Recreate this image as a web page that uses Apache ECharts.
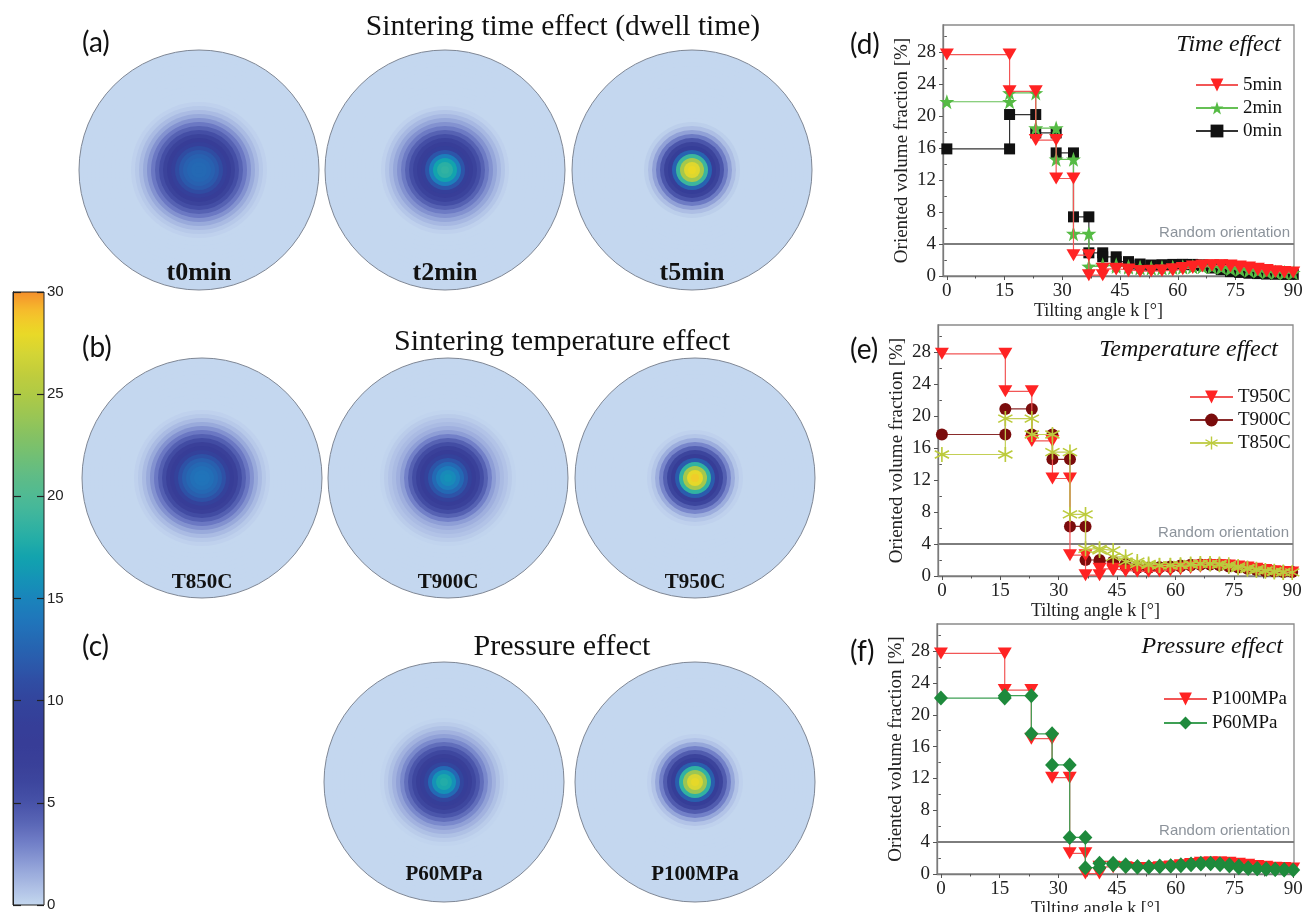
<!DOCTYPE html>
<html><head><meta charset="utf-8">
<script src="https://cdn.jsdelivr.net/npm/echarts@6/dist/echarts.min.js"></script>
<style>html,body{margin:0;padding:0;background:#fff}#c{width:1304px;height:912px}</style>
</head><body><div id="c"></div><script>
// ---------- DATA ----------
// equal-solid-angle tilting-angle bin edges [deg]
const tiltEdges = [0,16.3,23.1,28.4,32.9,36.9,40.5,44.0,47.2,50.2,53.1,55.9,58.7,61.3,63.9,66.4,68.9,71.3,73.7,76.1,78.5,80.8,83.1,85.4,87.7,90];
// (d) time effect
const time5min = [27.7,23.1,17.0,12.2,2.6,0.1,0.9,0.8,0.6,0.6,0.65,0.7,0.85,1.0,1.2,1.3,1.35,1.3,1.2,1.05,0.9,0.75,0.6,0.5,0.45];
const time2min = [21.8,22.9,18.5,14.6,5.3,1.2,1.4,1.2,1.1,1.0,1.0,1.05,1.1,1.15,1.2,1.2,1.15,1.05,0.9,0.8,0.7,0.6,0.5,0.45,0.4];
const time0min = [15.9,20.2,17.9,15.4,7.4,2.9,2.4,1.8,1.5,1.35,1.35,1.4,1.45,1.45,1.4,1.3,1.0,0.8,0.55,0.45,0.35,0.3,0.25,0.25,0.2];
// (e) temperature effect
const tempT950C = [27.8,23.1,16.9,12.2,2.6,0.1,0.9,0.7,0.6,0.55,0.6,0.7,0.85,1.0,1.15,1.3,1.35,1.3,1.2,1.05,0.9,0.75,0.6,0.5,0.45];
const tempT900C = [17.7,20.9,17.7,14.6,6.2,2.0,1.8,1.5,1.15,1.0,1.05,1.1,1.2,1.3,1.4,1.45,1.45,1.35,1.2,1.05,0.9,0.75,0.6,0.55,0.5];
const tempT850C = [15.2,19.7,17.7,15.5,7.7,3.4,3.2,2.4,1.8,1.5,1.35,1.3,1.35,1.4,1.5,1.55,1.5,1.4,1.2,1.0,0.85,0.7,0.6,0.5,0.45];
// (f) pressure effect
const presP100MPa = [27.7,23.1,17.0,12.1,2.6,0.05,0.9,0.85,0.75,0.7,0.75,0.85,0.95,1.1,1.25,1.4,1.45,1.4,1.3,1.15,1.0,0.9,0.8,0.75,0.7];
const presP60MPa = [22.1,22.4,17.6,13.7,4.6,0.8,1.35,1.15,0.95,0.85,0.9,1.0,1.05,1.15,1.25,1.35,1.3,1.15,1.0,0.8,0.7,0.65,0.6,0.55,0.5];
const randomLevel = 4;
const xTicks = [0,15,30,45,60,75,90];
const xMinorTicks = [7.5,22.5,37.5,52.5,67.5,82.5];
const yTicks = [0,4,8,12,16,20,24,28];
const yMinorTicks = [2,6,10,14,18,22,26,30];
const cbTicks = [0,5,10,15,20,25,30];
// pole figure radial intensity profiles (30 rings, centre -> edge)
const ringT0min  = [13.0,13.0,12.8,12.4,11.8,10.8,9.2,7.8,6.5,5.3,4.2,3.3,2.4,1.6,1.0,0.5,0.2,0,0,0,0,0,0,0,0,0,0,0,0,0];
const ringT2min  = [18.5,18.2,17.0,14.5,11.5,9.0,7.5,6.4,5.3,4.2,3.2,2.4,1.7,1.1,0.6,0.2,0,0,0,0,0,0,0,0,0,0,0,0,0,0];
const ringT5min  = [28.0,27.5,24.5,19.0,12.5,8.5,6.5,4.8,3.2,1.9,0.9,0.3,0,0,0,0,0,0,0,0,0,0,0,0,0,0,0,0,0,0];
const ringT850C  = [13.8,13.7,13.4,12.9,12.2,11.2,9.6,8.1,6.8,5.5,4.3,3.3,2.4,1.6,1.0,0.5,0.2,0,0,0,0,0,0,0,0,0,0,0,0,0];
const ringT900C  = [15.8,15.4,14.4,13.0,11.4,9.6,8.0,6.7,5.4,4.2,3.0,2.0,1.4,1.0,0.7,0.4,0.1,0,0,0,0,0,0,0,0,0,0,0,0,0];
const ringT950C  = [28.5,27.8,24.5,18.5,12.0,8.2,6.2,4.3,2.8,1.5,0.6,0.2,0,0,0,0,0,0,0,0,0,0,0,0,0,0,0,0,0,0];
const ringP60MPa = [17.8,17.4,15.8,13.0,10.2,8.3,7.0,5.9,4.8,3.7,2.7,1.9,1.3,0.8,0.4,0.1,0,0,0,0,0,0,0,0,0,0,0,0,0,0];
const ringP100MPa= [27.8,27.2,24.0,18.5,12.2,8.3,6.3,4.5,3.0,1.7,0.7,0.2,0,0,0,0,0,0,0,0,0,0,0,0,0,0,0,0,0,0];
const poleNames = ['t0min','t2min','t5min','T850C','T900C','T950C','P60MPa','P100MPa'];
const poleRings = [ringT0min,ringT2min,ringT5min,ringT850C,ringT900C,ringT950C,ringP60MPa,ringP100MPa];

// ---------- LAYOUT / STYLE ----------
const poleLayout = [
  {cx:199,cy:170,ly:273,fs:26},{cx:445,cy:170,ly:273,fs:26},{cx:692,cy:170,ly:273,fs:26},
  {cx:202,cy:478,ly:583,fs:21},{cx:448,cy:478,ly:583,fs:21},{cx:695,cy:478,ly:583,fs:21},
  {cx:444,cy:782,ly:875,fs:21},{cx:695,cy:782,ly:875,fs:21}
];
const cmap = ['#c4d7ef','#aabbe3','#8e9ed6','#7280c8','#5a66b6','#4752a8','#3d469e','#393f98','#373d97','#353f99',
  '#33449c','#2f4ea4','#2a5cad','#2469b4','#1f77bb','#1a84bb','#1494b6','#12a3ae','#26aea6','#3cb59e',
  '#4fba94','#5fbc86','#72bf74','#86c262','#9bc653','#afca45','#c1cd3c','#d4d535','#ead926','#f5c02c','#f5902c'];
const SERIF = 'Liberation Serif';
const SANS = 'Liberation Sans';
const grids = [
  {left:943,top:25,width:351,height:251},
  {left:938,top:325,width:355,height:251},
  {left:937,top:624,width:357,height:250}
];
const RING_COUNT = poleRings[0].length;

function stepPoints(vals){
  const pts = [];
  vals.forEach((v,i) => { pts.push([tiltEdges[i], v]); pts.push([tiltEdges[i+1], v]); });
  return pts;
}
const starPath = 'path://M50,2 L61.8,36.2 L97.6,36.5 L69,58.1 L79.4,92.4 L50,72 L20.6,92.4 L31,58.1 L2.4,36.5 L38.2,36.2 Z';
function asteriskPath(){
  let d = '';
  [90, 30, -30].forEach(a => {
    const r = a*Math.PI/180, ux = Math.cos(r), uy = Math.sin(r), vx = -uy, vy = ux, L = 50, W = 5;
    const p = [[50+L*ux+W*vx,50+L*uy+W*vy],[50+L*ux-W*vx,50+L*uy-W*vy],[50-L*ux-W*vx,50-L*uy-W*vy],[50-L*ux+W*vx,50-L*uy+W*vy]];
    d += 'M'+p.map(q=>q[0].toFixed(1)+','+q[1].toFixed(1)).join(' L')+' Z ';
  });
  return 'path://' + d;
}
// a filled disc out to the ring's outer radius; discs are drawn outermost first
function renderDisc(params, api){
  const cs = params.coordSys;
  const p = api.coord([api.value(0), 0]);
  const r = Math.hypot(p[0]-cs.cx, p[1]-cs.cy);
  return {type:'circle', shape:{cx:cs.cx, cy:cs.cy, r:r}, style:{fill:api.visual('color')}};
}

// ---------- OPTION ----------
const option = {
  animation:false,
  backgroundColor:'#fff',
  grid:[], xAxis:[], yAxis:[], polar:[], angleAxis:[], radiusAxis:[], series:[], legend:[], graphic:[]
};

// pole figures
poleLayout.forEach((p,i) => {
  option.polar.push({center:[p.cx,p.cy], radius:120});
  option.angleAxis.push({polarIndex:i, type:'value', min:0, max:360, startAngle:90, z:5,
    axisLine:{show:true, lineStyle:{color:'#7f8795', width:1}}, axisTick:{show:false}, axisLabel:{show:false}, splitLine:{show:false}});
  option.radiusAxis.push({polarIndex:i, type:'value', min:0, max:RING_COUNT, show:false,
    axisLine:{show:false}, axisTick:{show:false}, axisLabel:{show:false}, splitLine:{show:false}});
  const data = poleRings[i].map((v,k) => [k+1, 0, v]).reverse();
  option.series.push({type:'custom', name:'pf_'+poleNames[i], coordinateSystem:'polar', polarIndex:i,
    encode:{radius:0, angle:1}, silent:true, renderItem:renderDisc, data:data});
  option.graphic.push({type:'text', x:p.cx, y:p.ly, z:10, style:{text:poleNames[i], fontFamily:SERIF, fontWeight:'bold', fontSize:p.fs,
    fill:'#111', align:'center', verticalAlign:'middle'}});
});

option.visualMap = {type:'continuous', min:0, max:30, dimension:2, seriesIndex:[0,1,2,3,4,5,6,7],
  inRange:{color:cmap}, left:13, top:292, itemWidth:31, itemHeight:613, calculable:false, hoverLink:false,
  padding:0, orient:'vertical', text:null, showLabel:false, z:2};

// line charts
const SERIES_DEF = [
  [ {name:'0min', vals:time0min, symbol:'rect', size:11, color:'#111', line:'#333'},
    {name:'2min', vals:time2min, symbol:starPath, size:15, color:'#55bb44', line:'#66c055'},
    {name:'5min', vals:time5min, symbol:'triangle', rotate:180, size:[14,12], color:'#ff2323', line:'#f25656'} ],
  [ {name:'T900C', vals:tempT900C, symbol:'circle', size:12, color:'#7a0c0c', line:'#8a2b2b'},
    {name:'T950C', vals:tempT950C, symbol:'triangle', rotate:180, size:[14,12], color:'#ff2323', line:'#f25656'},
    {name:'T850C', vals:tempT850C, symbol:asteriskPath(), size:15, color:'#bccb3c', line:'#c3cf55'} ],
  [ {name:'P100MPa', vals:presP100MPa, symbol:'triangle', rotate:180, size:[14,12], color:'#ff2323', line:'#f25656'},
    {name:'P60MPa', vals:presP60MPa, symbol:'diamond', size:[14,15], color:'#1e8a3c', line:'#3ea055'} ]
];
const LEGENDS = [
  {data:['5min','2min','0min'], left:1195, top:75, itemWidth:42, gap:3},
  {data:['T950C','T900C','T850C'], left:1189, top:387, itemWidth:43, gap:3},
  {data:['P100MPa','P60MPa'], left:1163, top:689, itemWidth:43, gap:4}
];
const TITLES = [
  {text:'Time effect', x:1281, y:45},
  {text:'Temperature effect', x:1278, y:350},
  {text:'Pressure effect', x:1283, y:647}
];

grids.forEach((g,gi) => {
  option.grid.push(Object.assign({show:true, borderColor:'#8a8a8a', borderWidth:1.3, backgroundColor:'transparent', containLabel:false, outerBoundsMode:'none'}, g));
});
grids.forEach((g,gi) => {
  option.xAxis.push({type:'value', gridIndex:gi, position:'bottom', min:-1, max:90.2,
    axisLine:{show:true, onZero:false, lineStyle:{color:'#7a7a7a', width:1.3}},
    axisTick:{show:true, customValues:xTicks, length:4, lineStyle:{color:'#555', width:1}},
    axisLabel:{show:true, customValues:xTicks, margin:6, fontFamily:SERIF, fontSize:19, color:'#222'},
    splitLine:{show:false},
    name:'Tilting angle k [°]', nameLocation:'middle', nameGap:17,
    nameTextStyle:{fontFamily:SERIF, fontSize:18, color:'#222', verticalAlign:'top', padding:[0,40,0,0]}});
  option.yAxis.push({type:'value', gridIndex:gi, position:'left', min:0, max:31.4,
    axisLine:{show:true, onZero:false, lineStyle:{color:'#7a7a7a', width:1.3}},
    axisTick:{show:true, customValues:yTicks, length:4, lineStyle:{color:'#555', width:1}},
    axisLabel:{show:true, customValues:yTicks, margin:7, fontFamily:SERIF, fontSize:19, color:'#222'},
    splitLine:{show:false},
    name:'Oriented volume fraction [%]', nameLocation:'middle', nameGap:31, nameRotate:90,
    nameTextStyle:{fontFamily:SERIF, fontSize:19, color:'#222'}});
});
grids.forEach((g,gi) => {
  option.xAxis.push({type:'value', gridIndex:gi, position:'bottom', min:-1, max:90.2,
    axisLine:{show:false}, axisLabel:{show:false}, splitLine:{show:false},
    axisTick:{show:true, customValues:xMinorTicks, length:2.5, lineStyle:{color:'#555', width:1}}});
  option.yAxis.push({type:'value', gridIndex:gi, position:'left', offset:0, min:0, max:31.4,
    axisLine:{show:false}, axisLabel:{show:false}, splitLine:{show:false},
    axisTick:{show:true, customValues:yMinorTicks, length:2.5, lineStyle:{color:'#555', width:1}}});
});

SERIES_DEF.forEach((list,gi) => {
  list.forEach((d,si) => {
    const s = {type:'line', name:d.name, xAxisIndex:gi, yAxisIndex:gi, data:stepPoints(d.vals),
      symbol:d.symbol, symbolSize:d.size, symbolRotate:d.rotate||0, showSymbol:true, showAllSymbol:true,
      itemStyle:{color:d.color, borderWidth:0}, lineStyle:{color:d.line, width:1.2},
      silent:true, emphasis:{disabled:true}, z:3+si};
    if (si === 0) {
      s.markLine = {silent:true, symbol:'none', z:2, animation:false,
        lineStyle:{color:'#7d7d7d', width:2, type:'solid'},
        label:{show:true, position:'insideEndTop', formatter:'Random orientation', color:'#8c939b',
          fontFamily:SANS, fontSize:15, distance:4},
        data:[{yAxis:randomLevel}]};
    }
    option.series.push(s);
  });
  const L = LEGENDS[gi];
  option.legend.push({data:L.data, orient:'vertical', left:L.left, top:L.top, padding:0,
    itemWidth:L.itemWidth, itemHeight:16, itemGap:L.gap, selectedMode:false,
    textStyle:{fontFamily:SERIF, fontSize:19, color:'#111', lineHeight:20}});
  const T = TITLES[gi];
  option.graphic.push({type:'text', x:T.x, y:T.y, style:{text:T.text, fontFamily:SERIF, fontStyle:'italic', fontSize:24,
    fill:'#111', align:'right', verticalAlign:'middle'}});
});

// colour bar axes (over the visualMap bar)
option.grid.push({left:13, top:292, width:31, height:613, show:true, borderColor:'#222', borderWidth:1, z:8,
  backgroundColor:'transparent', containLabel:false, outerBoundsMode:'none'});
option.xAxis.push({type:'value', gridIndex:3, show:false, min:0, max:1});
// labels on the right
option.yAxis.push({type:'value', gridIndex:3, position:'right', min:0, max:30, z:9,
  axisLine:{show:true, lineStyle:{color:'#222', width:1}},
  axisTick:{show:false},
  axisLabel:{show:true, customValues:cbTicks, margin:3, fontFamily:SANS, fontSize:15, color:'#222'},
  splitLine:{show:false}});
// inward ticks on the left edge
option.yAxis.push({type:'value', gridIndex:3, position:'left', offset:0, min:0, max:30, z:9,
  axisLine:{show:true, lineStyle:{color:'#222', width:1}},
  axisTick:{show:true, inside:true, customValues:cbTicks, length:8, lineStyle:{color:'#222', width:1.2}},
  axisLabel:{show:false}, splitLine:{show:false}});
// inward ticks on the right edge (a left axis shifted onto the right edge, ticks pointing left)
option.yAxis.push({type:'value', gridIndex:3, position:'left', offset:-31, min:0, max:30, z:9,
  axisLine:{show:false},
  axisTick:{show:true, inside:false, customValues:cbTicks, length:7, lineStyle:{color:'#222', width:1.2}},
  axisLabel:{show:false}, splitLine:{show:false}});

// panel letters and section headings
[['(a)',82,43],['(b)',82,348],['(c)',82,647],['(d)',850,45],['(e)',850,350],['(f)',850,652]].forEach(t => {
  option.graphic.push({type:'text', x:t[1], y:t[2], style:{text:t[0], fontFamily:'Lato', fontSize:28, fill:'#111',
    align:'left', verticalAlign:'middle'}});
});
[['Sintering time effect (dwell time)',563,27,29.5],['Sintering temperature effect',562,342,30],['Pressure effect',562,647,30]].forEach(t => {
  option.graphic.push({type:'text', x:t[1], y:t[2], style:{text:t[0], fontFamily:SERIF, fontSize:t[3], fill:'#111',
    align:'center', verticalAlign:'middle'}});
});

const chart = echarts.init(document.getElementById('c'), null, {renderer:'canvas', width:1304, height:912});
chart.setOption(option);
</script></body></html>
